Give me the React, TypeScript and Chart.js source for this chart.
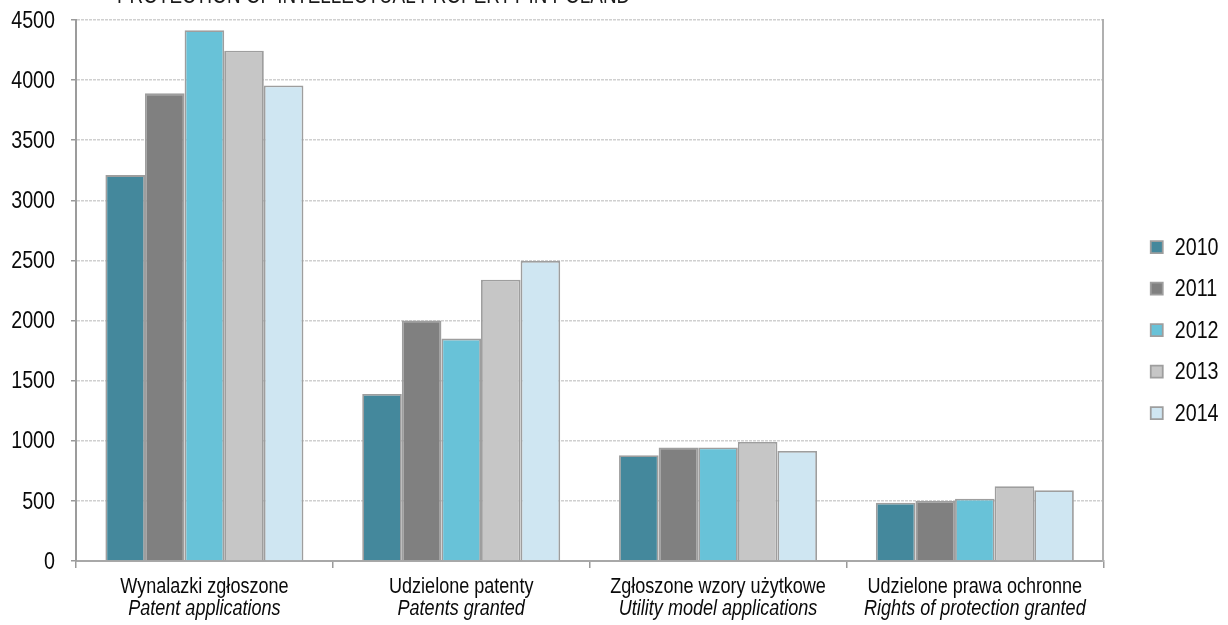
import React, { useEffect, useRef } from 'react';
import { Chart, registerables } from 'chart.js';

Chart.register(...registerables);

const FONT = "'Liberation Sans', Arial, sans-serif";
const NARROW = 0.82;

const titleText = 'PROTECTION OF INTELLECTUAL PROPERTY IN POLAND';
const categoriesPL = ['Wynalazki zgłoszone', 'Udzielone patenty', 'Zgłoszone wzory użytkowe', 'Udzielone prawa ochronne'];
const categoriesEN = ['Patent applications', 'Patents granted', 'Utility model applications', 'Rights of protection granted'];
const years = ['2010', '2011', '2012', '2013', '2014'];
const values2010 = [3210, 1390, 880, 485];
const values2011 = [3890, 2000, 945, 500];
const values2012 = [4415, 1850, 945, 518];
const values2013 = [4245, 2340, 990, 622];
const values2014 = [3955, 2495, 915, 588];
const yMin = 0;
const yMax = 4500;
const yStep = 500;
const colors = ['#44889c', '#808080', '#68c2d8', '#c6c6c6', '#cfe6f2'];

const seriesValues = [values2010, values2011, values2012, values2013, values2014];

// Draws text in a narrow (Arial Narrow-like) style by horizontal scaling
function narrowText(ctx: CanvasRenderingContext2D, text: string, x: number, y: number, font: string, align: CanvasTextAlign, baseline: CanvasTextBaseline) {
  ctx.save();
  ctx.scale(NARROW, 1);
  ctx.font = font;
  ctx.textAlign = align;
  ctx.textBaseline = baseline;
  ctx.fillText(text, x / NARROW, y);
  ctx.restore();
}

const narrowLabels = {
  id: 'narrowLabels',
  afterDraw(chart: any) {
    const ctx = chart.ctx as CanvasRenderingContext2D;
    ctx.save();
    ctx.fillStyle = '#0a0a0a';
    // category labels (two lines, second italic)
    const xs = chart.scales.x;
    categoriesPL.forEach((t, i) => {
      const x = xs.getPixelForTick(i);
      narrowText(ctx, t, x, xs.top + 32, `22px ${FONT}`, 'center', 'alphabetic');
      narrowText(ctx, categoriesEN[i], x, xs.top + 54, `italic 22px ${FONT}`, 'center', 'alphabetic');
    });
    // value axis labels
    const ys = chart.scales.y;
    ys.ticks.forEach((tk: any) => {
      const y = ys.getPixelForValue(tk.value);
      narrowText(ctx, String(tk.value), ys.right - 21, y + 1, `24px ${FONT}`, 'right', 'middle');
    });
    // legend texts
    const lg = chart.legend;
    if (lg && lg.legendHitBoxes) {
      lg.legendItems.forEach((item: any, i: number) => {
        const hb = lg.legendHitBoxes[i];
        narrowText(ctx, item.text, hb.left + 24, hb.top + hb.height / 2 + 1, `24px ${FONT}`, 'left', 'middle');
      });
    }
    ctx.restore();
  },
};

export default function App() {
  const ref = useRef<HTMLCanvasElement | null>(null);
  useEffect(() => {
    if (!ref.current) return;
    const chart = new Chart(ref.current, {
      type: 'bar',
      data: {
        labels: categoriesPL,
        datasets: years.map((y, i) => ({
          label: y,
          data: seriesValues[i],
          backgroundColor: colors[i],
          borderColor: '#9e9e9e',
          borderWidth: 1.8,
          categoryPercentage: 0.771,
          barPercentage: 1.0,
        })),
      },
      options: {
        animation: false,
        responsive: true,
        maintainAspectRatio: false,
        layout: { padding: { top: 20, left: 0, right: 28, bottom: 0 } },
        plugins: {
          tooltip: { enabled: false },
          legend: {
            position: 'right',
            align: 'center',
            title: { display: true, text: '', font: { size: 1 }, padding: { top: 0, bottom: 14 } },
            labels: {
              boxWidth: 12,
              boxHeight: 12,
              padding: 29.5,
              color: 'rgba(0,0,0,0)',
              font: { family: FONT, size: 10 },
            },
          },
        },
        scales: {
          x: {
            grid: {
              display: true,
              drawOnChartArea: false,
              drawTicks: true,
              tickLength: 7,
              offset: true,
              color: '#9a9a9a',
              lineWidth: 1.5,
            },
            border: { display: true, color: '#a8a8a8', width: 2 },
            ticks: { display: false },
            afterFit: (s: any) => { s.height = 64; },
          },
          y: {
            min: yMin,
            max: yMax,
            ticks: { display: false, stepSize: yStep },
            grid: {
              color: '#d0d0d0',
              lineWidth: 1.5,
              tickLength: 5,
              tickColor: '#9a9a9a',
            },
            border: { display: true, color: '#9c9c9c', width: 2, dash: [3, 1] },
            afterFit: (s: any) => { s.width = 76; },
          },
          y2: {
            position: 'right',
            display: true,
            grid: { display: false },
            ticks: { display: false },
            border: { display: true, color: '#b0b0b0', width: 2 },
            afterFit: (s: any) => { s.width = 18; },
          },
        },
      },
      plugins: [narrowLabels],
    });
    return () => chart.destroy();
  }, []);

  return (
    <div style={{ position: 'absolute', left: 0, top: 0, width: 1228, height: 625, overflow: 'hidden', background: '#fff' }}>
      <div
        style={{
          position: 'absolute',
          left: 117,
          top: -16,
          fontFamily: FONT,
          fontSize: 23,
          lineHeight: '23px',
          color: '#1a1a1a',
          whiteSpace: 'nowrap',
          transform: `scaleX(${NARROW})`,
          transformOrigin: '0 0',
        }}
      >
        {titleText}
      </div>
      <canvas ref={ref} />
    </div>
  );
}
